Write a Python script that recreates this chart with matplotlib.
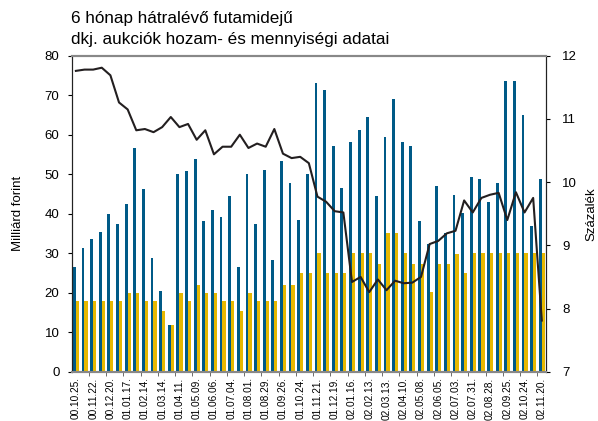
import matplotlib
matplotlib.use("Agg")
import matplotlib.pyplot as plt
from matplotlib.ticker import FixedLocator
import numpy as np

plt.rcParams['font.family'] = ['Liberation Sans', 'DejaVu Sans']

# data: auction volume (bn HUF) offered/accepted and yield (%)
volume_blue = [26.5, 31.3, 33.6, 35.4, 39.9, 37.4, 42.4, 56.6, 46.2, 28.8,
               20.4, 11.8, 50.0, 50.8, 53.8, 38.1, 40.9, 39.2, 44.5, 26.5,
               50.0, 37.4, 51.1, 28.3, 53.3, 47.8, 38.4, 50.0, 73.1, 71.3,
               57.1, 46.5, 58.1, 61.2, 64.5, 44.5, 59.4, 69.0, 58.1, 57.1,
               38.1, 32.3, 47.0, 35.1, 44.7, 40.2, 49.3, 48.8, 43.0, 47.8,
               73.6, 73.6, 65.0, 36.9, 48.8]
volume_yellow = [18, 18, 18, 18, 18, 18, 20, 20, 18, 18,
                 15.4, 11.8, 20, 18, 22, 20, 20, 18, 18, 15.4,
                 20, 18, 18, 18, 22, 22, 25, 25, 30, 25,
                 25, 25, 30, 30, 30, 27.3, 35.1, 35.1, 30, 27.3,
                 27.3, 20.2, 27.3, 27.3, 29.8, 25, 30, 30, 30, 30,
                 30, 30, 30, 30, 30]
yield_pct = [11.76, 11.78, 11.78, 11.81, 11.69, 11.26, 11.15, 10.82, 10.84, 10.79,
             10.87, 11.03, 10.87, 10.92, 10.67, 10.82, 10.44, 10.56, 10.56, 10.75,
             10.54, 10.61, 10.56, 10.84, 10.45, 10.38, 10.40, 10.30, 9.77, 9.69,
             9.54, 9.52, 8.42, 8.50, 8.26, 8.46, 8.29, 8.44, 8.40, 8.41,
             8.50, 9.02, 9.07, 9.19, 9.23, 9.71, 9.52, 9.75, 9.80, 9.83,
             9.40, 9.84, 9.52, 9.75, 7.81]
tick_labels = ['00.10.25.', '00.11.22.', '00.12.20.', '01.01.17.', '01.02.14.',
               '01.03.14.', '01.04.11.', '01.05.09.', '01.06.06.', '01.07.04.',
               '01.08.01.', '01.08.29.', '01.09.26.', '01.10.24.', '01.11.21.',
               '01.12.19.', '02.01.16.', '02.02.13.', '02.03.13.', '02.04.10.',
               '02.05.08.', '02.06.05.', '02.07.03.', '02.07.31.', '02.08.28.',
               '02.09.25.', '02.10.24.', '02.11.20.']

BLUE = '#005A87'
YELLOW = '#E6B800'

n = len(volume_blue)
x = np.arange(n)

fig = plt.figure(figsize=(5.98, 4.21), dpi=100)
ax = fig.add_axes([0.1204, 0.117, 0.7921, 0.7507])

w = 0.33
ax.bar(x - w / 2 - 0.01, volume_blue, width=w, color=BLUE, zorder=2)
ax.bar(x + w / 2 + 0.01, volume_yellow, width=w + 0.04, color=YELLOW, zorder=2)

ax.set_xlim(-0.45, n - 1 + 0.45)
ax.set_ylim(0, 80)
ax.set_yticks(range(0, 81, 10))
ax.set_xticks(x[::2])
ax.set_xticklabels(tick_labels, rotation=90, fontsize=7.3)
ax.xaxis.set_minor_locator(FixedLocator(np.arange(-0.5, n, 2)))
ax.tick_params(axis='x', which='major', length=0, pad=4)
ax.tick_params(axis='x', which='minor', length=3, color='#555555')
ax.tick_params(axis='y', length=3, direction='out', labelsize=9.5, pad=6)
ax.set_ylabel('Milliárd forint', fontsize=9.5, labelpad=15)

for s in ['top', 'bottom']:
    ax.spines[s].set_color('#888888')
    ax.spines[s].set_linewidth(1.5)
ax.spines['left'].set_color('#222222')
ax.spines['right'].set_color('#222222')

ax2 = ax.twinx()
ax2.plot(x, yield_pct, color='#231F20', lw=1.5, zorder=3)
ax2.set_ylim(7, 12)
ax2.set_yticks(range(7, 13))
ax2.tick_params(axis='y', length=3, direction='out', labelsize=9.5, pad=9)
ax2.set_ylabel('Százalék', fontsize=9.5, labelpad=6)
for s in ['top', 'bottom']:
    ax2.spines[s].set_color('#888888')
    ax2.spines[s].set_linewidth(1.5)
ax2.spines['right'].set_color('#222222')
ax2.spines['left'].set_color('#222222')

fig.text(0.1187, 0.955, '6 hónap hátralévő futamidejű', fontsize=12.3, va='center', ha='left')
fig.text(0.1187, 0.905, 'dkj. aukciók hozam- és mennyiségi adatai', fontsize=12.3, va='center', ha='left')

fig.savefig('out.png', dpi=100)
